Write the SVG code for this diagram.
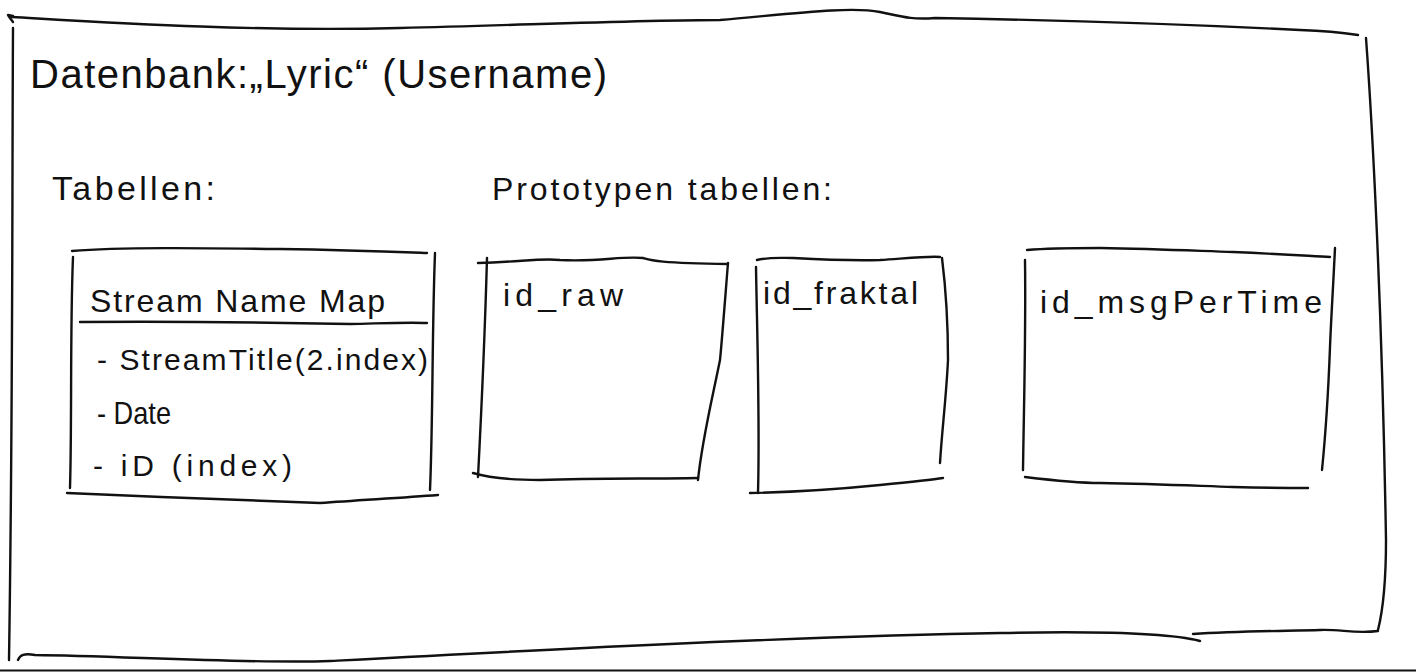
<svg xmlns="http://www.w3.org/2000/svg" width="1416" height="672" viewBox="0 0 1416 672">
<style>
.ink{fill:none;stroke:#111;stroke-width:2.4;stroke-linecap:round;stroke-linejoin:round}
.t{font-family:"Liberation Sans","DejaVu Sans",sans-serif;fill:#111}
</style>
<rect width="1416" height="672" fill="#fff"/>
<g id="frame">
<path class="ink" d="M13 22 L10 18 L8 15 L13 16"/>
<path class="ink" d="M12 17 C100 22 250 32 400 28 S650 20 720 20 C790 14 850 6 880 12 C900 16 910 20 935 18 C1050 20 1200 25 1300 30 C1330 31 1345 33 1358 35"/>
<path class="ink" d="M13 28 C12 200 13 400 9 660"/>
<path class="ink" d="M1366 38 C1372 120 1382 300 1386 540 C1386 580 1383 610 1378 630"/>
<path class="ink" d="M1193 634 C1240 631 1290 631 1320 630 C1340 629 1355 634 1378 631"/>
<path class="ink" d="M18 660 C20 655 24 653 35 655 C120 656 250 664 330 661 C500 652 800 636 1000 633 C1100 631 1170 633 1200 641"/>
<line x1="0" y1="670.5" x2="1416" y2="670.5" stroke="#111" stroke-width="2"/>
</g>
<g id="title">
<text class="t" x="30" y="88" font-size="40" textLength="577" lengthAdjust="spacing">Datenbank:„Lyric“ (Username)</text>
</g>
<g id="label-tabellen">
<text class="t" x="52" y="200" font-size="34" textLength="163" lengthAdjust="spacing">Tabellen:</text>
</g>
<g id="label-prototypen">
<text class="t" x="492" y="200" font-size="32" textLength="340" lengthAdjust="spacing">Prototypen tabellen:</text>
</g>
<g id="node-streamnamemap">
<path class="ink" d="M72 251 C120 247 200 248 280 249 C350 250 400 252 427 253"/>
<path class="ink" d="M73 257 C70 330 72 420 70 488"/>
<path class="ink" d="M435 253 C432 330 433 420 430 490"/>
<path class="ink" d="M80 322 C200 321 300 323 350 324 C390 323 410 322 427 323"/>
<path class="ink" d="M67 493 C150 497 250 500 320 503 C360 500 400 498 438 495"/>
<text class="t" x="90" y="312" font-size="32" textLength="295" lengthAdjust="spacing">Stream Name Map</text>
<text class="t" x="97" y="370" font-size="30" textLength="331" lengthAdjust="spacing">- StreamTitle(2.index)</text>
<text class="t" x="97" y="424" font-size="32" textLength="74" lengthAdjust="spacingAndGlyphs">- Date</text>
<text class="t" x="93" y="476" font-size="30" textLength="199" lengthAdjust="spacing">- iD (index)</text>
</g>
<g id="node-id-raw">
<path class="ink" d="M478 263 C520 262 540 258 560 260 C600 262 620 256 643 258 C650 260 655 263 728 264"/>
<path class="ink" d="M487 258 C485 330 482 400 478 477"/>
<path class="ink" d="M728 263 C725 300 722 340 720 360 C712 400 702 440 698 480"/>
<path class="ink" d="M473 473 C490 478 510 480 540 480 C600 478 650 479 698 478"/>
<text class="t" x="503" y="306" font-size="32" textLength="120" lengthAdjust="spacing">id_raw</text>
</g>
<g id="node-id-fraktal">
<path class="ink" d="M757 260 C770 257 780 258 793 258 C830 260 850 261 880 260 C910 258 930 256 940 257"/>
<path class="ink" d="M756 267 C757 330 760 420 758 493"/>
<path class="ink" d="M942 258 C946 290 948 330 948 360 C946 400 942 430 940 463"/>
<path class="ink" d="M750 493 C800 492 850 488 880 485 C910 482 930 480 943 478"/>
<text class="t" x="763" y="304" font-size="32" textLength="155" lengthAdjust="spacing">id_fraktal</text>
</g>
<g id="node-id-msgpertime">
<path class="ink" d="M1027 250 C1050 248 1080 248 1100 248 C1160 249 1200 251 1233 252 C1280 254 1310 256 1330 257"/>
<path class="ink" d="M1025 260 C1026 330 1024 400 1023 470"/>
<path class="ink" d="M1335 248 C1333 290 1331 320 1330 347 C1328 400 1325 440 1322 470"/>
<path class="ink" d="M1025 477 C1050 480 1080 483 1100 483 C1160 484 1200 486 1233 487 C1270 488 1295 488 1308 488"/>
<text class="t" x="1040" y="313" font-size="32" textLength="282" lengthAdjust="spacing">id_msgPerTime</text>
</g>
<g id="connectors"/>
</svg>
